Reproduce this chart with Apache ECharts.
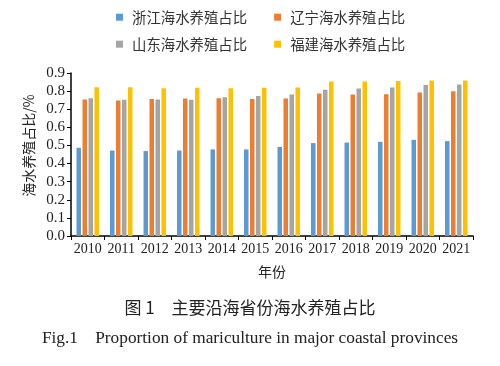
<!DOCTYPE html>
<html><head><meta charset="utf-8">
<script src="https://cdn.jsdelivr.net/npm/echarts@6/dist/echarts.min.js"></script>
<style>html,body{margin:0;padding:0;background:#fff}#c{width:500px;height:366px}</style>
</head><body><div id="c"></div>
<script>
var years = ['2010','2011','2012','2013','2014','2015','2016','2017','2018','2019','2020','2021'];
var seriesNames = ['浙江海水养殖占比','辽宁海水养殖占比','山东海水养殖占比','福建海水养殖占比'];
var zhejiang = [0.487,0.472,0.469,0.472,0.478,0.478,0.492,0.513,0.516,0.520,0.531,0.524];
var liaoning = [0.754,0.748,0.757,0.759,0.761,0.757,0.759,0.787,0.781,0.783,0.792,0.799];
var shandong = [0.761,0.752,0.754,0.752,0.766,0.773,0.781,0.807,0.814,0.820,0.834,0.836];
var fujian   = [0.821,0.821,0.816,0.818,0.816,0.818,0.820,0.853,0.853,0.856,0.858,0.858];
var colors = ['#5B9BD5','#ED7D31','#A5A5A5','#FFC000'];
var serif = "'Liberation Serif','Noto Sans CJK SC',serif";
var cjk = "'Noto Sans CJK SC',sans-serif";
var chart = echarts.init(document.getElementById('c'));
var data = [zhejiang, liaoning, shandong, fujian];
var legendText = {fontFamily:cjk, fontSize:14.4, color:'#333', padding:[0,0,0,4]};
chart.setOption({
  animation:false,
  title:[
    {text:'图 1\u3000主要沿海省份海水养殖占比', left:'center', top:294, textStyle:{fontFamily:cjk, fontSize:17, fontWeight:'normal', color:'#222'}},
    {text:'Fig.1\u3000Proportion of mariculture in major coastal provinces', left:'center', top:325, textStyle:{fontFamily:serif, fontSize:17.3, fontWeight:'normal', color:'#222'}}
  ],
  legend:[
    {data:[seriesNames[0],seriesNames[1]], left:111, top:5, itemWidth:7, itemHeight:7, itemGap:27, icon:'rect', textStyle:legendText},
    {data:[seriesNames[2],seriesNames[3]], left:111, top:32, itemWidth:7, itemHeight:7, itemGap:27, icon:'rect', textStyle:legendText}
  ],
  grid:{left:71, right:27, top:73, bottom:130},
  xAxis:{type:'category', data:years, name:'年份', nameLocation:'middle', nameGap:29,
    nameTextStyle:{fontFamily:cjk, fontSize:14, color:'#222'},
    axisLine:{lineStyle:{color:'#000', width:1.5}},
    axisTick:{show:true, length:4, lineStyle:{color:'#000'}},
    axisLabel:{fontFamily:serif, fontSize:14, color:'#222', margin:6, interval:0}},
  yAxis:{type:'value', min:0, max:0.9, interval:0.1, name:'海水养殖占比/%', nameLocation:'middle', nameGap:32,
    nameTextStyle:{fontFamily:cjk, fontSize:14, color:'#222', padding:[0,0,0,18]},
    splitLine:{show:false},
    axisLine:{show:true, lineStyle:{color:'#000', width:1.5}},
    axisTick:{show:true, length:4, lineStyle:{color:'#000'}},
    axisLabel:{fontFamily:serif, fontSize:15, color:'#222', margin:6, formatter:function(v){return v.toFixed(1);}}},
  series: seriesNames.map(function(n,i){
    return {name:n, type:'bar', data:data[i], barWidth:4.5, barGap:'33%', itemStyle:{color:colors[i]}};
  })
});
</script></body></html>
